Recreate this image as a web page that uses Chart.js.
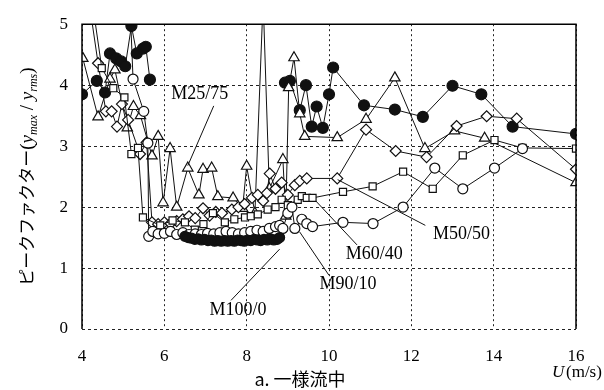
<!DOCTYPE html>
<html>
<head>
<meta charset="utf-8">
<script src="https://cdn.jsdelivr.net/npm/chart.js@4/dist/chart.umd.min.js"></script>
<style>
  html, body { margin: 0; padding: 0; background: #fff; }
  #wrap { width: 604px; height: 390px; position: relative; }
</style>
</head>
<body>
<div id="wrap"><canvas id="c" width="604" height="390"></canvas></div>
<script>
// Axis ticks
const xTicks = [4, 6, 8, 10, 12, 14, 16];
const yTicks = [0, 1, 2, 3, 4, 5];

// M100/0 (filled circles)
const m100U = [6.5, 6.58, 6.66, 6.74, 6.82, 6.9, 6.98, 7.06, 7.14, 7.22, 7.3, 7.38, 7.46, 7.54, 7.62, 7.7, 7.78, 7.86, 7.94, 8.02, 8.1, 8.18, 8.26, 8.34, 8.42, 8.5, 8.58, 8.66, 8.74, 8.8];
const m100V = [1.52, 1.5, 1.49, 1.47, 1.48, 1.46, 1.47, 1.45, 1.46, 1.44, 1.45, 1.44, 1.45, 1.44, 1.45, 1.44, 1.46, 1.45, 1.44, 1.46, 1.45, 1.47, 1.46, 1.45, 1.47, 1.46, 1.48, 1.46, 1.47, 1.5];

// M90/10 (open circles)
const m90U = [5.15, 5.24, 5.5, 5.6, 5.62, 5.72, 5.85, 6.0, 6.15, 6.3, 6.45, 6.6, 6.75, 6.9, 7.05, 7.2, 7.35, 7.5, 7.65, 7.8, 7.95, 8.1, 8.25, 8.4, 8.55, 8.7, 8.8, 8.88, 9.0, 9.1, 9.17, 9.34, 9.46, 9.6, 10.34, 11.07, 11.8, 12.57, 13.25, 14.02, 14.7];
const m90V = [5.6, 4.1, 3.57, 3.05, 1.52, 1.6, 1.56, 1.57, 1.6, 1.55, 1.58, 1.55, 1.56, 1.55, 1.57, 1.56, 1.58, 1.6, 1.58, 1.56, 1.58, 1.6, 1.62, 1.6, 1.65, 1.68, 1.7, 1.65, 1.9, 2.0, 1.65, 1.8, 1.73, 1.68, 1.75, 1.73, 2.0, 2.64, 2.3, 2.64, 2.96];

// M60/40 (open squares)
const m60U = [4.2, 4.48, 4.76, 5.03, 5.2, 5.36, 5.48, 5.9, 6.2, 6.5, 6.74, 6.95, 7.18, 7.47, 7.7, 7.96, 8.1, 8.27, 8.51, 8.7, 8.85, 9.0, 9.24, 9.34, 9.46, 9.6, 10.34, 11.06, 11.8, 12.52, 13.25, 14.02, 14.7, 16.0];
const m60V = [5.6, 4.28, 3.95, 3.8, 2.87, 2.97, 1.83, 1.7, 1.78, 1.75, 1.63, 1.72, 1.9, 1.75, 1.8, 1.83, 1.85, 1.88, 1.96, 2.0, 2.12, 2.03, 2.12, 2.18, 2.15, 2.15, 2.25, 2.34, 2.58, 2.3, 2.85, 3.1, 2.97, 2.96];

// Open diamonds
const diaU = [4.1, 4.39, 4.58, 4.72, 4.85, 4.97, 5.12, 5.41, 5.57, 5.7, 5.85, 6.0, 6.15, 6.3, 6.45, 6.6, 6.75, 6.94, 7.1, 7.25, 7.4, 7.64, 7.8, 7.95, 8.13, 8.27, 8.4, 8.49, 8.56, 8.7, 8.85, 9.0, 9.17, 9.29, 9.46, 10.2, 10.9, 11.62, 12.37, 13.1, 13.83, 14.56, 16.0];
const diaV = [5.7, 4.36, 3.57, 3.57, 3.32, 3.69, 3.43, 2.87, 3.06, 1.75, 1.72, 1.75, 1.73, 1.77, 1.8, 1.85, 1.82, 1.98, 1.86, 1.92, 1.9, 1.96, 2.0, 2.05, 2.15, 2.2, 2.1, 2.23, 2.55, 2.3, 2.4, 2.2, 2.36, 2.43, 2.47, 2.47, 3.27, 2.92, 2.82, 3.33, 3.49, 3.45, 2.62];

// M25/75 (open triangles)
const m25U = [4.02, 4.39, 4.68, 4.8, 5.1, 5.25, 5.42, 5.7, 5.85, 5.97, 6.14, 6.3, 6.57, 6.84, 6.94, 7.15, 7.3, 7.67, 7.9, 8.0, 8.2, 8.4, 8.55, 8.88, 8.95, 9.02, 9.15, 9.29, 9.41, 10.2, 10.9, 11.6, 12.33, 13.05, 13.78, 16.0];
const m25V = [4.44, 3.48, 4.1, 4.25, 3.3, 3.65, 3.5, 2.84, 3.16, 2.07, 2.96, 2.0, 2.64, 2.2, 2.62, 2.64, 2.17, 2.15, 1.98, 2.67, 1.9, 5.4, 2.3, 2.78, 1.85, 3.96, 4.45, 3.53, 3.16, 3.14, 3.44, 4.12, 2.96, 3.25, 3.13, 2.4];

// Filled circles, upper group
const topU = [4.0, 4.36, 4.56, 4.68, 4.83, 4.95, 5.05, 5.2, 5.33, 5.48, 5.55, 5.65, 5.75, 8.93, 9.05, 9.29, 9.44, 9.58, 9.7, 9.85, 10.0, 10.1, 10.85, 11.6, 12.28, 13.0, 13.7, 14.46, 16.0];
const topV = [3.85, 4.07, 3.88, 4.52, 4.44, 4.39, 4.31, 4.97, 4.52, 4.6, 4.63, 4.09, null, 4.04, 4.07, 3.59, 4.0, 3.32, 3.65, 3.3, 3.85, 4.29, 3.67, 3.6, 3.48, 3.99, 3.85, 3.32, 3.2];

const pts = (us, vs) => us.map((u, i) => ({ x: u, y: vs[i] }));

function series(label, us, vs, style, radius, filled) {
  return {
    label,
    data: pts(us, vs),
    showLine: true,
    spanGaps: false,
    borderColor: '#111',
    borderWidth: 1,
    pointStyle: style,
    pointRadius: radius,
    pointBorderWidth: 1.2,
    pointBorderColor: '#111',
    pointBackgroundColor: filled ? '#111' : '#fff',
    tension: 0
  };
}

const datasets = [
  series('M100/0', m100U, m100V, 'circle', 5, true),
  series('M90/10', m90U, m90V, 'circle', 5, false),
  series('M60/40', m60U, m60V, 'rect', 5, false),
  series('diamond', diaU, diaV, 'rectRot', 5.5, false),
  series('M25/75', m25U, m25V, 'triangle', 6, false),
  series('upper', topU, topV, 'circle', 5.5, true)
];

// Series labels with leader lines, in data coordinates
const callouts = [
  { text: 'M25/75', at: [6.86, 3.85], from: [7.2, 3.66], to: [6.57, 2.68] },
  { text: 'M60/40', at: [11.1, 1.23], from: [10.68, 1.38], to: [9.68, 2.1] },
  { text: 'M50/50', at: [13.22, 1.55], from: [12.34, 1.7], to: [10.21, 2.45] },
  { text: 'M90/10', at: [10.46, 0.74], from: [10.0, 0.88], to: [9.29, 1.59] },
  { text: 'M100/0', at: [7.79, 0.3], from: [7.62, 0.47], to: [8.8, 1.31] }
];

const serif = '"Liberation Serif", "DejaVu Serif", serif';
const jp = '"Noto Sans CJK JP", "Noto Sans", sans-serif';

const decor = {
  id: 'decor',
  afterDatasetsDraw(chart) {
    const { ctx, chartArea: a, scales: { x, y } } = chart;
    ctx.save();
    // solid frame on left, top and right
    ctx.strokeStyle = '#000';
    ctx.lineWidth = 1.5;
    ctx.beginPath();
    ctx.moveTo(a.left, a.bottom);
    ctx.lineTo(a.left, a.top);
    ctx.lineTo(a.right, a.top);
    ctx.lineTo(a.right, a.bottom);
    ctx.stroke();

    // callouts
    ctx.lineWidth = 1;
    ctx.strokeStyle = '#111';
    ctx.fillStyle = '#000';
    ctx.font = '18px ' + serif;
    ctx.textAlign = 'center';
    ctx.textBaseline = 'middle';
    callouts.forEach(c => {
      ctx.beginPath();
      ctx.moveTo(x.getPixelForValue(c.from[0]), y.getPixelForValue(c.from[1]));
      ctx.lineTo(x.getPixelForValue(c.to[0]), y.getPixelForValue(c.to[1]));
      ctx.stroke();
      ctx.fillText(c.text, x.getPixelForValue(c.at[0]), y.getPixelForValue(c.at[1]));
    });
    ctx.restore();
  },
  afterDraw(chart) {
    const { ctx, chartArea: a } = chart;
    ctx.save();
    ctx.fillStyle = '#000';
    ctx.textBaseline = 'alphabetic';

    // x unit label
    ctx.textAlign = 'left';
    ctx.font = 'italic 17px ' + serif;
    ctx.fillText('U', 552, 377);
    ctx.font = '17px ' + serif;
    ctx.fillText('(m/s)', 566, 377);

    // caption
    ctx.textAlign = 'center';
    ctx.font = '18px ' + jp;
    ctx.fillText('a. 一様流中', 300, 386);

    // rotated y-axis title: ピークファクター(y_max / y_rms)
    const parts = [
      { t: 'ピークファクター', f: '17px ' + jp, dy: 0 },
      { t: '(', f: '19px ' + serif, dy: 0 },
      { t: 'y', f: 'italic 19px ' + serif, dy: 0 },
      { t: 'max', f: 'italic 12px ' + serif, dy: 4 },
      { t: ' / ', f: '19px ' + serif, dy: 0 },
      { t: 'y', f: 'italic 19px ' + serif, dy: 0 },
      { t: 'rms', f: 'italic 12px ' + serif, dy: 4 },
      { t: ')', f: '19px ' + serif, dy: 0 }
    ];
    let total = 0;
    parts.forEach(p => { ctx.font = p.f; p.w = ctx.measureText(p.t).width; total += p.w; });
    ctx.translate(33, (a.top + a.bottom) / 2);
    ctx.rotate(-Math.PI / 2);
    ctx.textAlign = 'left';
    let cx = -total / 2;
    parts.forEach(p => {
      ctx.font = p.f;
      ctx.fillText(p.t, cx, p.dy);
      cx += p.w;
    });
    ctx.restore();
  }
};

new Chart(document.getElementById('c'), {
  type: 'scatter',
  data: { datasets },
  options: {
    responsive: false,
    devicePixelRatio: 1,
    animation: false,
    layout: { padding: { top: 15, right: 28, left: 0, bottom: 0 } },
    plugins: { legend: { display: false }, tooltip: { enabled: false } },
    scales: {
      x: {
        type: 'linear',
        min: xTicks[0],
        max: xTicks[xTicks.length - 1],
        afterBuildTicks: s => { s.ticks = xTicks.map(v => ({ value: v })); },
        afterFit: s => { s.height = 61; },
        ticks: { color: '#000', font: { family: serif, size: 17 }, padding: 17, maxRotation: 0 },
        grid: { color: '#222', lineWidth: 1, drawTicks: false },
        border: { display: false, dash: [2, 3] }
      },
      y: {
        type: 'linear',
        min: yTicks[0],
        max: yTicks[yTicks.length - 1],
        afterBuildTicks: s => { s.ticks = yTicks.map(v => ({ value: v })); },
        afterFit: s => { s.width = 82; },
        ticks: { color: '#000', font: { family: serif, size: 17 }, padding: 14 },
        grid: { color: '#222', lineWidth: 1, drawTicks: false },
        border: { display: false, dash: [3, 3] }
      }
    }
  },
  plugins: [decor]
});
</script>
</body>
</html>
